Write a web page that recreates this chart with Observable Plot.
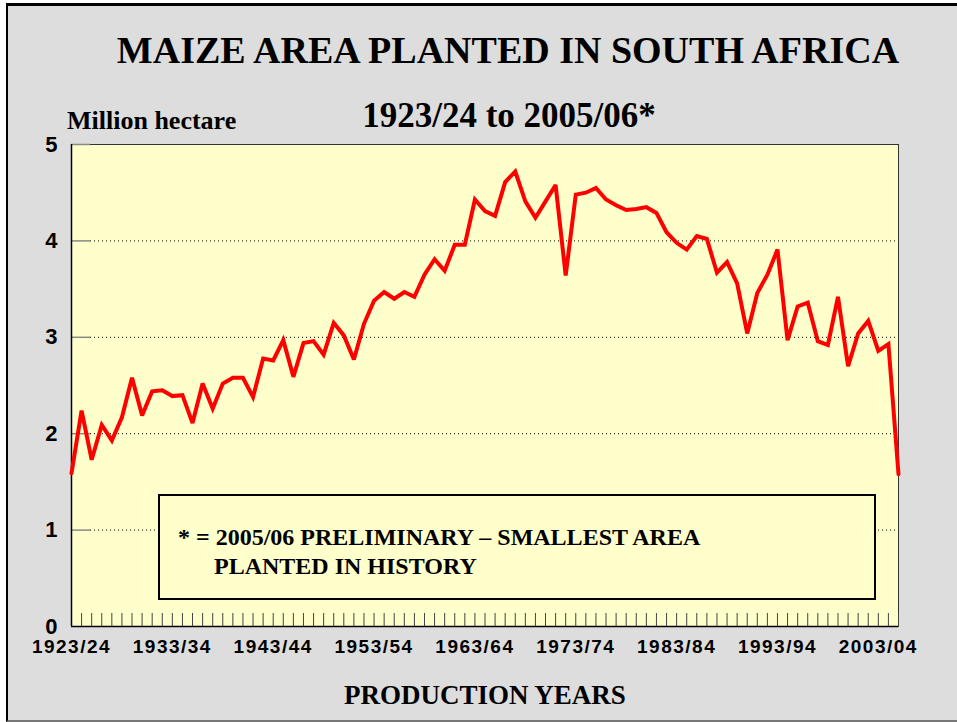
<!DOCTYPE html>
<html>
<head>
<meta charset="utf-8">
<script src="https://cdn.jsdelivr.net/npm/d3@7"></script>
<script src="https://cdn.jsdelivr.net/npm/@observablehq/plot@0.6"></script>
<style>
  html, body { margin: 0; padding: 0; background: #ffffff; overflow: hidden; width: 957px; height: 722px; }
  #page { position: absolute; left: 6px; top: 3px; width: 1000px; height: 714px;
          background: #DDDDDD; border-left: 2px solid #000; border-top: 3px solid #000; border-bottom: 2px solid #777; }
  #chart { position: absolute; left: 0; top: 0; }
</style>
</head>
<body>
<div id="page"></div>
<div id="chart"></div>
<script>
const seasons = [
  "1923/24","1924/25","1925/26","1926/27","1927/28","1928/29","1929/30","1930/31","1931/32","1932/33",
  "1933/34","1934/35","1935/36","1936/37","1937/38","1938/39","1939/40","1940/41","1941/42","1942/43",
  "1943/44","1944/45","1945/46","1946/47","1947/48","1948/49","1949/50","1950/51","1951/52","1952/53",
  "1953/54","1954/55","1955/56","1956/57","1957/58","1958/59","1959/60","1960/61","1961/62","1962/63",
  "1963/64","1964/65","1965/66","1966/67","1967/68","1968/69","1969/70","1970/71","1971/72","1972/73",
  "1973/74","1974/75","1975/76","1976/77","1977/78","1978/79","1979/80","1980/81","1981/82","1982/83",
  "1983/84","1984/85","1985/86","1986/87","1987/88","1988/89","1989/90","1990/91","1991/92","1992/93",
  "1993/94","1994/95","1995/96","1996/97","1997/98","1998/99","1999/00","2000/01","2001/02","2002/03",
  "2003/04","2004/05","2005/06"
];
// Million hectare
const areaPlanted = [
  1.59, 2.24, 1.73, 2.09, 1.93, 2.17, 2.58, 2.19, 2.44, 2.45,
  2.39, 2.40, 2.11, 2.52, 2.26, 2.52, 2.58, 2.58, 2.38, 2.78,
  2.76, 2.97, 2.59, 2.94, 2.96, 2.82, 3.15, 3.02, 2.77, 3.14,
  3.38, 3.47, 3.40, 3.47, 3.42, 3.65, 3.81, 3.69, 3.96, 3.96,
  4.43, 4.31, 4.26, 4.61, 4.72, 4.41, 4.24, 4.41, 4.58, 3.64,
  4.48, 4.50, 4.55, 4.43, 4.37, 4.32, 4.33, 4.35, 4.29, 4.09,
  3.98, 3.91, 4.05, 4.02, 3.67, 3.78, 3.56, 3.04, 3.46, 3.65,
  3.91, 2.97, 3.32, 3.36, 2.96, 2.92, 3.42, 2.70, 3.04, 3.17,
  2.86, 2.93, 1.58
];
const xTickLabels = ["1923/24","1933/34","1943/44","1953/54","1963/64","1973/74","1983/84","1993/94","2003/04"];
const yTickValues = [0, 1, 2, 3, 4, 5];
const gridValues = [1, 2, 3, 4];
const yMarkValues = [1, 2, 3, 4, 5];

const titleText = "MAIZE AREA PLANTED IN SOUTH AFRICA";
const subtitleText = "1923/24 to 2005/06*";
const yUnitText = "Million hectare";
const xTitleText = "PRODUCTION YEARS";
const noteLines = ["* = 2005/06 PRELIMINARY \u2013 SMALLEST AREA", "PLANTED IN HISTORY"];

const data = seasons.map((s, i) => ({season: s, area: areaPlanted[i]}));

const W = 957, H = 722, mT = 144, mL = 71, mR = 59, mB = 96;
const frameH = H - mT - mB, frameW = W - mL - mR;

const chart = Plot.plot({
  width: W, height: H,
  marginTop: mT, marginLeft: mL, marginRight: mR, marginBottom: mB,
  style: {background: "transparent", fontFamily: "'Liberation Sans', Arial, sans-serif", color: "#000", overflow: "visible"},
  x: {type: "point", domain: seasons, padding: 0, round: false},
  y: {domain: [0, 5]},
  marks: [
    Plot.frame({fill: "#FFFFCC", stroke: "#333", strokeWidth: 1}),
    Plot.ruleY(gridValues, {stroke: "#000", strokeDasharray: "1,3", insetLeft: 19}),
    Plot.ruleY(yMarkValues, {stroke: "#888", strokeWidth: 1.5, insetRight: frameW - 19}),
    Plot.ruleX(seasons, {stroke: "#444", strokeWidth: 1, insetTop: frameH - 13}),
    Plot.ruleX([seasons[0]], {stroke: "#000", strokeWidth: 1.5}),
    Plot.ruleY([0], {stroke: "#000", strokeWidth: 1.5}),
    Plot.line(data, {x: "season", y: "area", stroke: "#FF0000", strokeWidth: 4, strokeLinejoin: "miter", strokeMiterlimit: 3}),
    Plot.axisY({ticks: yTickValues, tickFormat: d3.format("d"), tickSize: 0, tickPadding: 14, fontSize: 22, fontWeight: "bold", label: null}),
    Plot.axisX({ticks: xTickLabels, tickSize: 0, tickPadding: 13, fontSize: 19, fontWeight: "bold", label: null})
  ]
});
document.getElementById("chart").appendChild(chart);

const svg = d3.select(chart);
svg.selectAll('g[aria-label="x-axis tick label"] text').attr("letter-spacing", "1.5");

const serif = "'Liberation Serif', 'Times New Roman', serif";
// annotation box
svg.append("rect").attr("x", 159).attr("y", 495).attr("width", 716).attr("height", 104)
  .attr("fill", "#FFFFCC").attr("stroke", "#000").attr("stroke-width", 2);
const note = svg.append("g").attr("font-family", serif).attr("font-weight", "bold").attr("font-size", 24)
  .attr("fill", "#000").attr("text-anchor", "start");
note.append("text").attr("x", 178).attr("y", 545).attr("text-anchor", "start").text(noteLines[0]);
note.append("text").attr("x", 214).attr("y", 574).attr("text-anchor", "start").text(noteLines[1]);

const t = svg.append("g").attr("font-family", serif).attr("font-weight", "bold").attr("fill", "#000");
t.append("text").attr("x", 508).attr("y", 63).attr("text-anchor", "middle").attr("font-size", 38).text(titleText);
t.append("text").attr("x", 509).attr("y", 127).attr("text-anchor", "middle").attr("font-size", 35).text(subtitleText);
t.append("text").attr("x", 67).attr("y", 129).attr("text-anchor", "start").attr("font-size", 26).text(yUnitText);
t.append("text").attr("x", 485).attr("y", 704).attr("text-anchor", "middle").attr("font-size", 27).text(xTitleText);
</script>
</body>
</html>
